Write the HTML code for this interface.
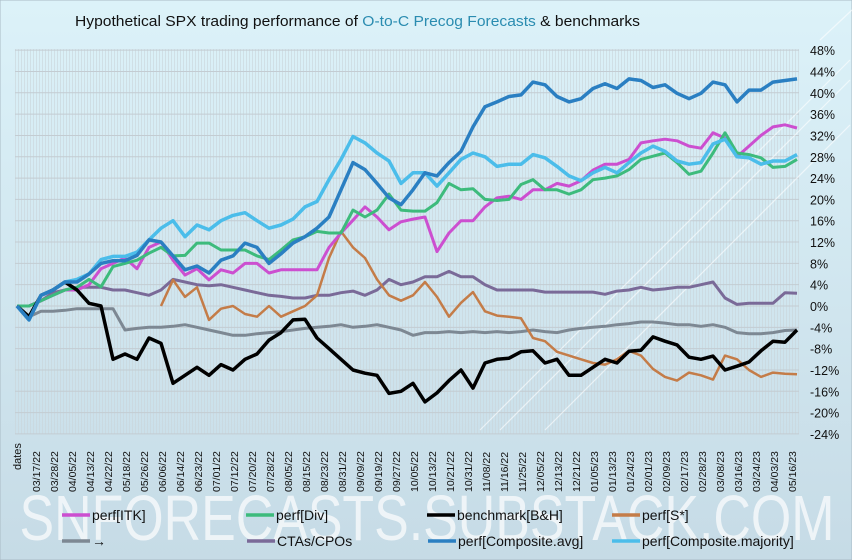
<!DOCTYPE html>
<html><head><meta charset="utf-8"><style>
html,body{margin:0;padding:0;width:852px;height:560px;overflow:hidden;font-family:"Liberation Sans",sans-serif}
</style></head><body>
<svg id="chart" width="852" height="560" xmlns="http://www.w3.org/2000/svg" font-family="Liberation Sans, sans-serif">
<defs>
<linearGradient id="bg" x1="0" y1="0" x2="0" y2="1"><stop offset="0" stop-color="#dcf2f9"/><stop offset="1" stop-color="#c6dbe6"/></linearGradient>
<pattern id="vgrid" width="3" height="10" patternUnits="userSpaceOnUse"><rect x="0" y="0" width="1" height="10" fill="#c9d3d9" opacity="0.6"/></pattern>
</defs>
<rect x="0" y="0" width="852" height="560" fill="url(#bg)" stroke="#aabbc5"/>
<rect x="15" y="49" width="784" height="385" fill="url(#vgrid)"/>
<g id="hgrid"></g>
<g stroke="#ffffff" stroke-width="1.2" opacity="0.6">
<line x1="480" y1="430" x2="850" y2="60"/><line x1="500" y1="430" x2="850" y2="80"/><line x1="545" y1="430" x2="850" y2="125"/><line x1="820" y1="40" x2="852" y2="10"/>
</g>
<text x="75" y="26" font-size="15" textLength="565" lengthAdjust="spacingAndGlyphs" fill="#111">Hypothetical SPX trading performance of <tspan fill="#2a8cb0">O-to-C Precog Forecasts</tspan> &amp; benchmarks</text>
<g id="yaxis"></g>
<g id="xaxis"></g>
<g id="series"></g>
<text x="427" y="540" font-size="64" text-anchor="middle" fill="#ffffff" opacity="0.7" textLength="815" lengthAdjust="spacingAndGlyphs">SNFORECASTS.SUBSTACK.COM</text>
<g id="legend"></g>
</svg>
<script>
const dateLabels=["03/17/22","03/28/22","04/05/22","04/13/22","04/22/22","05/18/22","05/26/22","06/06/22","06/14/22","06/23/22","07/01/22","07/12/22","07/20/22","07/28/22","08/05/22","08/15/22","08/23/22","08/31/22","09/09/22","09/19/22","09/27/22","10/05/22","10/13/22","10/21/22","10/31/22","11/08/22","11/16/22","11/25/22","12/05/22","12/13/22","12/21/22","01/05/23","01/13/23","01/24/23","02/01/23","02/09/23","02/17/23","02/28/23","03/08/23","03/16/23","03/24/23","04/03/23","05/16/23"];
const yTicks=[48,44,40,36,32,28,24,20,16,12,8,4,0,-4,-8,-12,-16,-20,-24];
const itk=[0,0,1,2,3,3,4,7,8,9,7,11,12,8.6,5.8,7,4.9,6.8,6.2,8,8,6.2,6.8,6.8,6.8,6.8,11,13.7,16.1,18.6,16.7,14.3,15.8,16.3,16.7,10.2,13.7,16,16,18.6,20.3,20.6,20,21.8,21.8,23,22.5,23.5,25.5,26.6,26.6,27.5,30.6,31,31.3,31,30,29.6,32.5,31.5,28,30,32,33.6,34,33.4];
const div=[0,0,1,2,3,3.5,5,3.6,7.4,8,8.6,9.9,11,9.4,9.5,11.8,11.8,10.5,10.5,10.5,9.4,8.7,10.5,12.4,13,14,13.7,13.7,18,16.7,18,21,18,17.8,17.8,19.4,23,21.8,22,20,19.8,20,22.8,23.7,21.8,21.8,21,21.8,23.7,24,24.4,25.6,27.5,28.1,28.7,26.9,24.7,25.3,28.7,32.5,28.7,28.4,27.8,26,26.2,27.5];
const bh=[0,-2,2,3,4.5,3,0.5,0,-10,-9,-10,-6,-7,-14.5,-13,-11.5,-13,-11,-12,-10,-9,-6.4,-5,-2.6,-2.5,-6,-8,-10,-12,-12.6,-13,-16.4,-16,-14.5,-18,-16.3,-14,-12,-15.4,-10.7,-10,-9.8,-8.6,-8.4,-10.7,-10,-13,-13,-11.5,-10,-10.7,-8.5,-8.3,-5.8,-6.6,-7.3,-9.6,-10,-9.4,-12,-11.3,-10.5,-8.4,-6.6,-6.8,-4.5];
const sStar=[null,null,null,null,null,null,null,null,null,null,null,null,0,4.9,1.7,3.5,-2.6,-0.5,0,-1.5,-2,0,-2,-1,0,2,9,14,11,9,5,2,1,2,4.5,1.7,-2,0.6,2.6,-1,-1.8,-2,-2.3,-6,-6.6,-8.6,-9.3,-10,-10.7,-11,-10,-8.4,-9.3,-11.8,-13.3,-14,-12.5,-13,-13.8,-9.3,-10,-12,-13.3,-12.5,-12.7,-12.8];
const arrowS=[0,-2,-1,-1,-0.8,-0.5,-0.5,-0.5,-0.5,-4.5,-4.2,-4,-4,-3.8,-3.5,-4,-4.5,-5,-5.5,-5.5,-5.2,-5,-4.8,-4.5,-4.2,-4,-3.8,-3.5,-4,-3.8,-3.5,-4,-4.5,-5.5,-5,-5,-4.8,-5,-4.8,-5,-4.8,-5,-4.8,-4.5,-4.8,-5,-4.5,-4.2,-4,-3.8,-3.5,-3.3,-3,-3,-3.2,-3.5,-3.5,-3.8,-3.5,-4,-5,-5.2,-5.2,-5,-4.6,-4.5];
const cta=[0,0,1,2.5,3,3.5,3.5,3.5,3,3,2.5,2,3,5,4.5,4,3.8,4,3.5,3,2.5,2,1.8,1.5,1.5,2,2,2.5,2.8,2,3,5,4,4.5,5.5,5.5,6.5,5.5,5.5,4,3,3,3,3,2.6,2.6,2.6,2.6,2.6,2.2,2.8,3,3.5,3,3.2,3.5,3.5,4,4.5,1.5,0.3,0.5,0.5,0.5,2.5,2.4];
const compAvg=[0,-2.6,2,3,4.5,4.5,6,8,8.5,8.5,9.5,12.4,12,9.4,6.8,7.5,6.2,8.6,9.4,11.8,11,8,9.8,11.8,13,14.6,16.7,21.8,26.9,25.6,23,20.3,19,21.8,25,24.4,26.9,29,33.6,37.4,38.3,39.3,39.6,42,41.5,39.3,38.3,38.9,40.8,41.7,40.8,42.6,42.3,41,41.5,39.9,38.9,39.9,42,41.5,38.3,40.5,40.5,42,42.3,42.6];
const compMaj=[0,-2.6,2,3,4.5,5,6,8.7,9.3,9.3,10.1,12.4,14.6,16,13,15.2,14.3,16,17,17.5,16,14.6,15.2,16.3,18.6,19.6,23.7,27.5,31.8,30.6,28.7,27.2,23,25,25,22.5,25,27.5,28.7,28,26.2,26.6,26.6,28.4,27.8,26.2,24.4,23.5,25,26,25,26.9,28.7,30,29,27.2,26.6,26.9,30.4,31.3,28,27.8,26.6,27.2,27.2,28.4];

const svgNS="http://www.w3.org/2000/svg";
const X0=17,X1=797,Y0=306,PPU=5.33;
const xOf=i=>X0+(X1-X0)*i/(itk.length-1);
const yOf=v=>Y0-v*PPU;
function mk(tag,attrs,parent){const e=document.createElementNS(svgNS,tag);for(const k in attrs)e.setAttribute(k,attrs[k]);parent.appendChild(e);return e;}

const hg=document.getElementById('hgrid'),ya=document.getElementById('yaxis');
yTicks.forEach(t=>{
  const l=mk('line',{x1:15,x2:799,y1:yOf(t),y2:yOf(t),stroke:'#c3ccd2','stroke-width':1},hg);
  
  
  const tx=mk('text',{x:810,y:yOf(t)+5,'font-size':12.5,fill:'#111'},ya);
  tx.textContent=t+'%';
  
  
});

const xa=document.getElementById('xaxis');
const dt=mk('text',{transform:'translate(21,470) rotate(-90)','font-size':11,fill:'#111'},xa);
dt.textContent='dates';


dateLabels.forEach((d,i)=>{
  const x=36+i*(792-36)/(dateLabels.length-1);
  const t=mk('text',{transform:`translate(${x+4},492) rotate(-90)`,'font-size':10.5,fill:'#111'},xa);
  t.textContent=d;
  
  
});

const seriesDefs=[
 {name:'cta-line',data:cta,color:'#7a6a98',w:3},
 {name:'arrow-line',data:arrowS,color:'#7d8893',w:3},
 {name:'s-star-line',data:sStar,color:'#c47c48',w:2.5},
 {name:'itk-line',data:itk,color:'#cc4fd0',w:3},
 {name:'div-line',data:div,color:'#3dbb7c',w:3},
 {name:'benchmark-line',data:bh,color:'#000000',w:3.5},
 {name:'composite-majority-line',data:compMaj,color:'#4bbdea',w:3.5},
 {name:'composite-avg-line',data:compAvg,color:'#2a7fc2',w:3.5}
];
const sg=document.getElementById('series');
seriesDefs.forEach(s=>{
  let d='',pen=false;
  s.data.forEach((v,i)=>{if(v===null){pen=false;return;}d+=(pen?'L':'M')+xOf(i).toFixed(1)+' '+yOf(v).toFixed(1);pen=true;});
  const p=mk('path',{d:d,fill:'none',stroke:s.color,'stroke-width':s.w,'stroke-linejoin':'round'},sg);
  
  
});

const legendItems=[
 {label:'perf[ITK]',color:'#cc4fd0',x:62,y:515},
 {label:'perf[Div]',color:'#3dbb7c',x:246,y:515},
 {label:'benchmark[B&H]',color:'#000000',x:427,y:515},
 {label:'perf[S*]',color:'#c47c48',x:612,y:515},
 {label:'→',color:'#7d8893',x:62,y:541},
 {label:'CTAs/CPOs',color:'#7a6a98',x:247,y:541},
 {label:'perf[Composite.avg]',color:'#2a7fc2',x:428,y:541},
 {label:'perf[Composite.majority]',color:'#4bbdea',x:612,y:541}
];
const lg=document.getElementById('legend');
legendItems.forEach(it=>{
  const g=mk('g',{},lg);
  
  
  mk('line',{x1:it.x,x2:it.x+28,y1:it.y,y2:it.y,stroke:it.color,'stroke-width':3.5},g);
  const t=mk('text',{x:it.x+30,y:it.y+5,'font-size':14,fill:'#111'},g);
  t.textContent=it.label;
});
</script>
</body></html>
